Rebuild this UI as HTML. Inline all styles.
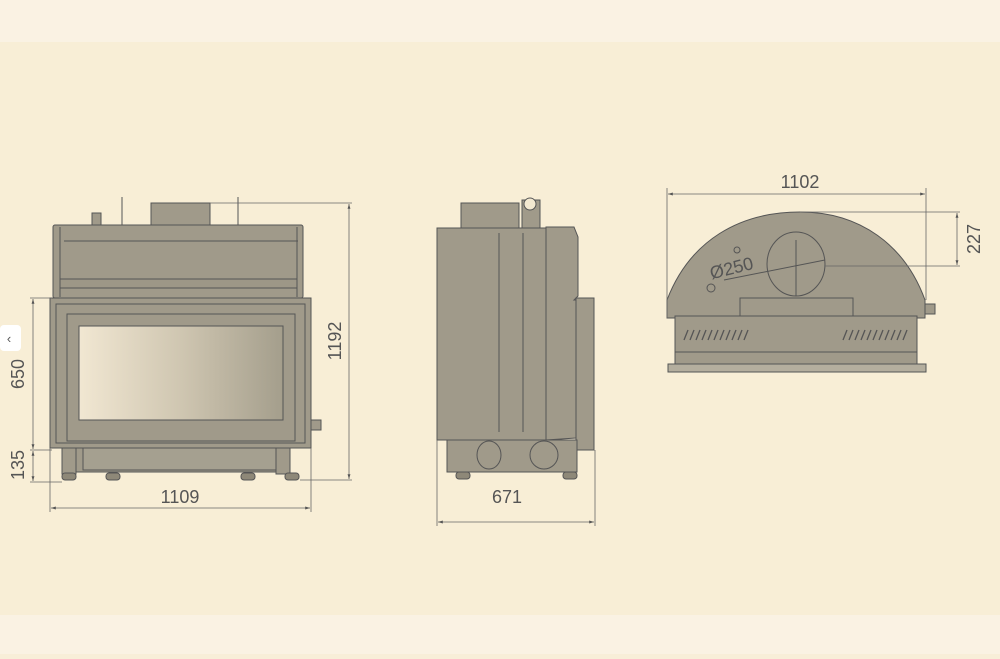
<!DOCTYPE html>
<html><head><style>
html,body{margin:0;padding:0;}
body{width:1000px;height:654px;overflow:hidden;background:#f8eed8;font-family:"Liberation Sans","DejaVu Sans",sans-serif;}
</style></head><body>
<svg width="1000" height="654" viewBox="0 0 1000 654" xmlns="http://www.w3.org/2000/svg">
<defs>
<linearGradient id="g" x1="0" x2="1" y1="0" y2="0"><stop offset="0" stop-color="#f1e7d2"/><stop offset="0.5" stop-color="#cfc6b1"/><stop offset="1" stop-color="#a49e8c"/></linearGradient>
<marker id="a" viewBox="0 0 10 10" refX="10" refY="5" markerWidth="6" markerHeight="6" orient="auto-start-reverse"><path d="M0,2 L10,5 L0,8 z" fill="#555"/></marker>
</defs>
<rect x="0" y="0" width="1000" height="42" fill="#faf2e3"/>
<rect x="0" y="42" width="1000" height="573" fill="#f8eed6"/>
<rect x="0" y="615" width="1000" height="39" fill="#faf2e3"/>
<rect x="0" y="325" width="21" height="26" rx="4" fill="#fff"/>
<text x="9" y="343" font-size="13" fill="#555" text-anchor="middle">‹</text>

<g stroke="#555" stroke-width="1" fill="#a09a8a">
<!-- FRONT -->
<rect x="151" y="203" width="59" height="22"/>
<rect x="92" y="213" width="9" height="12"/>
<line x1="122" y1="197" x2="122" y2="225"/><line x1="238" y1="197" x2="238" y2="225"/>
<rect x="53" y="225" width="250" height="73" rx="2"/>
<line x1="60" y1="227" x2="60" y2="297"/><line x1="297" y1="227" x2="297" y2="297"/>
<line x1="64" y1="241" x2="298" y2="241"/>
<path d="M60,279 L297,279 L297,288 L60,288z" fill="#9d9787"/>
<path d="M50,298 L311,298 L311,448 L50,448 z"/>
<path d="M56,304 L305,304 L305,443 L56,443 z" fill="none"/>
<rect x="67" y="314" width="228" height="127"/>
<rect x="79" y="326" width="204" height="94" fill="url(#g)"/>
<rect x="62" y="448" width="228" height="24"/>
<rect x="83" y="448" width="194" height="22" fill="#a5a090"/>
<rect x="62" y="448" width="14" height="26"/><rect x="276" y="448" width="14" height="26"/>
<rect x="311" y="420" width="10" height="10"/>
<g fill="#8e8878"><rect x="62" y="473" width="14" height="7" rx="3"/><rect x="106" y="473" width="14" height="7" rx="3"/><rect x="241" y="473" width="14" height="7" rx="3"/><rect x="285" y="473" width="14" height="7" rx="3"/></g>
<!-- SIDE -->
<rect x="461" y="203" width="58" height="25"/>
<rect x="522" y="200" width="18" height="28"/>
<circle cx="530" cy="204" r="6" fill="#f2e8d0"/>
<rect x="437" y="228" width="109" height="212"/>
<line x1="499" y1="233" x2="499" y2="432"/><line x1="523" y1="233" x2="523" y2="432"/>
<path d="M546,227 L574,227 L578,237 L578,296 L574,300 L576,300 L576,438 L546,440 z"/>
<rect x="576" y="298" width="18" height="152"/>
<rect x="447" y="440" width="130" height="32"/>
<ellipse cx="489" cy="455" rx="12" ry="14" fill="none"/>
<circle cx="544" cy="455" r="14" fill="none"/>
<g fill="#8e8878"><rect x="456" y="472" width="14" height="7" rx="3"/><rect x="563" y="472" width="14" height="7" rx="3"/></g>
<!-- TOP -->
<path d="M667,318 L667,300 C690,240 740,212 800,212 C860,212 905,245 925,300 L925,318 z"/>
<path d="M675,316 L740,316 L740,298 L853,298 L853,316 L917,316" fill="none"/>
<rect x="675" y="316" width="242" height="36"/>
<rect x="675" y="352" width="242" height="12"/>
<rect x="668" y="364" width="258" height="8" fill="#b4ae9e"/>
<rect x="925" y="304" width="10" height="10"/>
<ellipse cx="796" cy="264" rx="29" ry="32"/>
<circle cx="737" cy="250" r="3" fill="none"/><circle cx="711" cy="288" r="4" fill="none"/>
<line x1="796" y1="240" x2="796" y2="296"/>
<line x1="724" y1="280" x2="825" y2="260"/>
</g>
<g stroke="#555" stroke-width="1.3">
<path d="M684,340 l4,-10 M690,340 l4,-10 M696,340 l4,-10 M702,340 l4,-10 M708,340 l4,-10 M714,340 l4,-10 M720,340 l4,-10 M726,340 l4,-10 M732,340 l4,-10 M738,340 l4,-10 M744,340 l4,-10"/>
<path d="M843,340 l4,-10 M849,340 l4,-10 M855,340 l4,-10 M861,340 l4,-10 M867,340 l4,-10 M873,340 l4,-10 M879,340 l4,-10 M885,340 l4,-10 M891,340 l4,-10 M897,340 l4,-10 M903,340 l4,-10"/>
</g>
<!-- dimension lines -->
<g stroke="#666" stroke-width="0.8" fill="none">
<line x1="210" y1="203" x2="352" y2="203"/><line x1="300" y1="480" x2="352" y2="480"/>
<line x1="349" y1="204" x2="349" y2="479" marker-start="url(#a)" marker-end="url(#a)"/>
<line x1="30" y1="298" x2="52" y2="298"/><line x1="30" y1="450" x2="52" y2="450"/><line x1="30" y1="482" x2="62" y2="482"/>
<line x1="33" y1="299" x2="33" y2="449" marker-start="url(#a)" marker-end="url(#a)"/>
<line x1="33" y1="451" x2="33" y2="481" marker-start="url(#a)" marker-end="url(#a)"/>
<line x1="50" y1="448" x2="50" y2="512"/><line x1="311" y1="448" x2="311" y2="512"/>
<line x1="51" y1="508" x2="310" y2="508" marker-start="url(#a)" marker-end="url(#a)"/>
<line x1="437" y1="440" x2="437" y2="526"/><line x1="595" y1="450" x2="595" y2="526"/>
<line x1="438" y1="522" x2="594" y2="522" marker-start="url(#a)" marker-end="url(#a)"/>
<line x1="667" y1="188" x2="667" y2="318"/><line x1="926" y1="188" x2="926" y2="300"/>
<line x1="668" y1="194" x2="925" y2="194" marker-start="url(#a)" marker-end="url(#a)"/>
<line x1="800" y1="212" x2="960" y2="212"/><line x1="825" y1="266" x2="960" y2="266"/>
<line x1="957" y1="213" x2="957" y2="265" marker-start="url(#a)" marker-end="url(#a)"/>
</g>
<g fill="#555" font-size="18">
<text x="180" y="503" text-anchor="middle">1109</text>
<text x="507" y="503" text-anchor="middle">671</text>
<text x="800" y="188" text-anchor="middle">1102</text>
<text transform="translate(341,341) rotate(-90)" text-anchor="middle">1192</text>
<text transform="translate(24,374) rotate(-90)" text-anchor="middle">650</text>
<text transform="translate(24,465) rotate(-90)" text-anchor="middle">135</text>
<text transform="translate(980,239) rotate(-90)" text-anchor="middle">227</text>
<text transform="translate(733,274) rotate(-14)" text-anchor="middle">Ø250</text>
</g>
</svg>
</body></html>
